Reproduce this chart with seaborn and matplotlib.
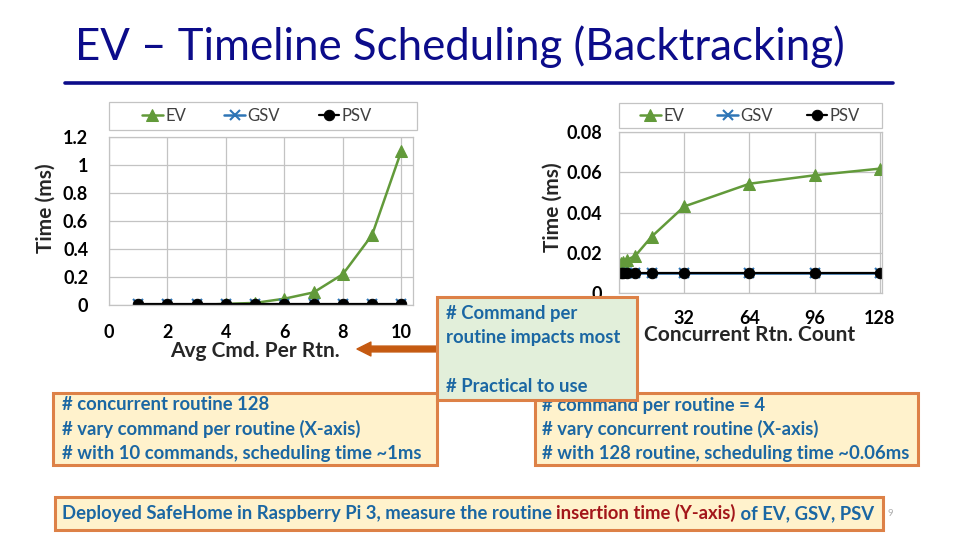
import numpy as np
import pandas as pd
import matplotlib.pyplot as plt
import seaborn as sns
from matplotlib.patches import Rectangle, FancyArrowPatch
from matplotlib.lines import Line2D

# data
left_x = [1, 2, 3, 4, 5, 6, 7, 8, 9, 10]
left_ev = [0.0, 0.0, 0.0, 0.008, 0.015, 0.045, 0.09, 0.22, 0.50, 1.10]
left_gsv = [0.01] * 10
left_psv = [0.01] * 10

right_x = [1, 2, 4, 8, 16, 32, 64, 96, 128]
right_ev = [0.0147, 0.0155, 0.0165, 0.0185, 0.028, 0.043, 0.0543, 0.0585, 0.0618]
right_gsv = [0.01] * 9
right_psv = [0.01] * 9

left_xticks = [0, 2, 4, 6, 8, 10]
left_yticks = [0, 0.2, 0.4, 0.6, 0.8, 1.0, 1.2]
left_ylabels = ['0', '0.2', '0.4', '0.6', '0.8', '1', '1.2']
right_xticks = [0, 32, 64, 96, 128]
right_yticks = [0, 0.02, 0.04, 0.06, 0.08]
right_ylabels = ['0', '0.02', '0.04', '0.06', '0.08']

sns.set_style('white')
plt.rcParams['font.family'] = ['Lato', 'DejaVu Sans']

W, H = 960, 540
fig = plt.figure(figsize=(9.6, 5.4), dpi=100)


def fx(px):
    return px / W


def fy(py):
    return 1 - py / H


GREEN = '#629a3a'
BLUE = '#2e75b6'
GRID = '#c3c3c3'
TXT_BLUE = '#1b67a3'
ORANGE = '#dd8147'
FS = 13.3


def draw_chart(ax, x, ev, gsv, psv):
    sns.lineplot(x=x, y=ev, ax=ax, color=GREEN, marker='^', markersize=8,
                 markeredgecolor=GREEN, lw=1.8, label='EV')
    sns.lineplot(x=x, y=gsv, ax=ax, color=BLUE, marker='x', markersize=7,
                 markeredgewidth=1.5, markeredgecolor=BLUE, lw=1.8, label='GSV')
    sns.lineplot(x=x, y=psv, ax=ax, color='black', marker='o', markersize=7.5,
                 markeredgecolor='black', lw=1.6, label='PSV')
    ax.grid(True, color=GRID, lw=0.9)
    for s in ax.spines.values():
        s.set_color(GRID)
        s.set_linewidth(0.9)
    ax.tick_params(axis='both', length=0, labelsize=13, labelcolor='black')


def legend_box(ax, x0, y0, w, h, cx, cy, spacing):
    ax.add_patch(Rectangle((x0, y0), w, h, transform=ax.transAxes, fc='white',
                           ec=GRID, lw=0.9, clip_on=False))
    ax.legend(ncol=3, loc='center', bbox_to_anchor=(cx, cy), frameon=False,
              fontsize=12, handlelength=1.25, handletextpad=0.15, columnspacing=spacing,
              labelcolor='#404040', borderaxespad=0)


# left chart
ax1 = fig.add_axes([fx(109), fy(305), (413 - 109) / W, (305 - 137) / H])
draw_chart(ax1, left_x, left_ev, left_gsv, left_psv)
ax1.set_xlim(0, 10.4)
ax1.set_ylim(0, 1.2)
ax1.set_xticks(left_xticks)
ax1.set_yticks(left_yticks, left_ylabels)
ax1.tick_params(axis='x', pad=14)
ax1.tick_params(axis='y', pad=15)
for lab in ax1.get_xticklabels() + ax1.get_yticklabels():
    lab.set_fontweight('bold')
ax1.set_xlabel('Avg Cmd. Per Rtn.', fontsize=15, fontweight='bold')
ax1.set_ylabel('Time (ms)', fontsize=15, fontweight='bold')
ax1.xaxis.set_label_coords((255 - 109) / 304, (305 - 351) / 168)
ax1.xaxis.label.set_va('center')
ax1.yaxis.set_label_coords((46 - 109) / 304, (305 - 208) / 168)
ax1.yaxis.label.set_va('center')
legend_box(ax1, 0, (305 - 130) / 168, (417 - 109) / 304, 28 / 168,
           (257 - 109) / 304, (305 - 116) / 168, 2.3)

# right chart
ax2 = fig.add_axes([fx(619), fy(293), (882 - 619) / W, (293 - 132) / H])
draw_chart(ax2, right_x, right_ev, right_gsv, right_psv)
ax2.set_xlim(0, 129)
ax2.set_ylim(0, 0.08)
ax2.set_xticks(right_xticks)
ax2.set_yticks(right_yticks, right_ylabels)
ax2.tick_params(axis='x', pad=12)
ax2.tick_params(axis='y', pad=12)
for lab in ax2.get_xticklabels() + ax2.get_yticklabels():
    lab.set_fontweight('bold')
ax2.set_xlabel('Concurrent Rtn. Count', fontsize=15, fontweight='bold')
ax2.set_ylabel('Time (ms)', fontsize=15, fontweight='bold')
ax2.xaxis.set_label_coords((750 - 619) / 263, (293 - 335) / 161)
ax2.xaxis.label.set_va('center')
ax2.yaxis.set_label_coords((553 - 619) / 263, (293 - 207) / 161)
ax2.yaxis.label.set_va('center')
legend_box(ax2, 0, (293 - 128) / 161, (882 - 619) / 263, 25 / 161,
           (750 - 619) / 263, (293 - 116) / 161, 2.0)

# title and rule
fig.text(fx(75), fy(47), 'EV – Timeline Scheduling (Backtracking)', fontsize=31.5,
         color='#0c0c8a', va='center', ha='left')
fig.add_artist(Line2D([fx(65), fx(893)], [fy(83), fy(83)], color='#0c0c8a', lw=2.6))


def box(x0, y0, x1, y1, fc, z):
    fig.add_artist(Rectangle((fx(x0), fy(y1)), fx(x1) - fx(x0), fy(y0) - fy(y1),
                             transform=fig.transFigure, fc=fc, ec=ORANGE, lw=2.2, zorder=z))


def lines(x, ys, texts, z):
    for y, t in zip(ys, texts):
        fig.text(fx(x), fy(y), t, fontsize=FS, fontweight='bold', color=TXT_BLUE,
                 va='center', ha='left', zorder=z)


box(53, 393, 437, 465, '#fff2cc', 3)
lines(62, [405, 429, 453], ['# concurrent routine 128', '# vary command per routine (X-axis)',
                             '# with 10 commands, scheduling time ~1ms'], 3)
box(535, 393, 918, 465, '#fff2cc', 3)
lines(542, [405, 429, 453], ['# command per routine = 4', '# vary concurrent routine (X-axis)',
                              '# with 128 routine, scheduling time ~0.06ms'], 3)
box(437, 297, 637, 400, '#e2efda', 5)
lines(446, [314, 338, 386], ['# Command per', 'routine impacts most', '# Practical to use'], 6)

# arrow from the green box to the left axis label
fig.add_artist(FancyArrowPatch((fx(437), fy(349)), (fx(357), fy(349)), transform=fig.transFigure,
                               arrowstyle='simple,head_width=1.0,head_length=1.0,tail_width=0.42',
                               mutation_scale=10, color='#c55a11', shrinkA=0, shrinkB=0, zorder=4))

# bottom note with the red part
box(55, 497, 883, 530, '#fff2cc', 3)
t1 = fig.text(fx(62), fy(514), 'Deployed SafeHome in Raspberry Pi 3, measure the routine ',
              fontsize=FS, fontweight='bold', color=TXT_BLUE, va='center', ha='left', zorder=4)
t2 = fig.text(0, 0, 'insertion time (Y-axis)', fontsize=FS, fontweight='bold', color='#a3161a',
              zorder=4)
t3 = fig.text(0, 0, ' of EV, GSV, PSV', fontsize=FS, fontweight='bold', color=TXT_BLUE, zorder=4)
fig.canvas.draw()
r = fig.canvas.get_renderer()
bb = t1.get_window_extent(r)
t2.set_position((bb.x1 / W, bb.y0 / H))
t2.set_va('bottom')
bb2 = t2.get_window_extent(r)
t3.set_position((bb2.x1 / W, bb.y0 / H))
t3.set_va('bottom')

fig.text(fx(887), fy(514), '9', fontsize=7, color='#b0b0b0', va='center')

fig.savefig('out.png', dpi=100)
